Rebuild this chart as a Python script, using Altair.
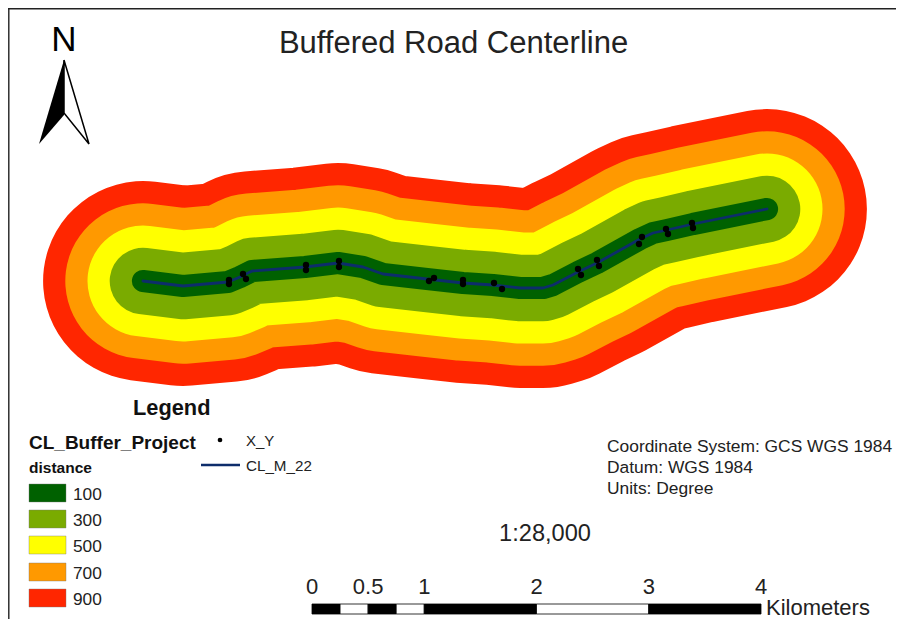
import altair as alt
import pandas as pd

# Road centreline (map units = reference pixels)
line_x = [143, 183, 228, 240, 252, 305, 338, 363, 383, 427, 463, 493, 520, 543, 553, 578, 597, 640, 653, 667, 693, 767]
line_y = [281, 286, 282, 277, 271, 267, 263, 267, 274, 279, 283, 285, 288, 288, 285, 272, 263, 239, 233, 230, 224, 209]

# X_Y survey points
pt_x = [229, 229, 243, 246, 306, 306, 339, 339, 429, 434, 463, 463, 494, 502, 578, 581, 597, 599, 642, 639, 666, 668, 692, 693]
pt_y = [280, 284, 274, 279, 265, 270, 261, 267, 281, 278, 280, 284, 283, 289, 269, 275, 260, 266, 237, 244, 229, 234, 223, 228]

distances = [100, 300, 500, 700, 900]
colors = ["#006100", "#7aab00", "#ffff00", "#ff9900", "#ff2600"]
legend_y = [484, 510, 536, 563, 589]

scale_km = [0, 0.25, 0.5, 0.75, 1, 2, 3, 4]
scale_tick_labels = ["0", "0.5", "1", "2", "3", "4"]
scale_tick_km = [0, 0.5, 1, 2, 3, 4]

X = alt.Scale(domain=[8, 896], nice=False, zero=False)
Y = alt.Scale(domain=[619, 8], nice=False, zero=False)
PX_PER_UNIT = 0.111
KM = 112.25
KM0 = 312


def xe(f="x"):
    return alt.X(f"{f}:Q", scale=X, axis=None)


def ye(f="y"):
    return alt.Y(f"{f}:Q", scale=Y, axis=None)


def label(x, y, text, size, weight="normal", align="left", color="#111111"):
    return alt.Chart(pd.DataFrame({"x": [x], "y": [y], "t": [text]})).mark_text(
        font="Liberation Sans", fontSize=size, fontWeight=weight, align=align,
        baseline="middle", color=color
    ).encode(x=xe(), y=ye(), text="t:N")


line_df = pd.DataFrame({"x": line_x, "y": line_y, "o": range(len(line_x))})
layers = []

# buffers, widest first
for d, c in sorted(zip(distances, colors), reverse=True):
    layers.append(
        alt.Chart(line_df).mark_line(
            color=c, strokeWidth=2 * d * PX_PER_UNIT, strokeCap="round", strokeJoin="round"
        ).encode(x=xe(), y=ye(), order="o:Q")
    )

layers.append(
    alt.Chart(line_df).mark_line(color="#0d2d6b", strokeWidth=2.8, strokeCap="round", strokeJoin="round")
    .encode(x=xe(), y=ye(), order="o:Q")
)
layers.append(
    alt.Chart(pd.DataFrame({"x": pt_x, "y": pt_y})).mark_point(
        filled=True, color="#000000", size=40, opacity=1
    ).encode(x=xe(), y=ye())
)

# frame: left and top edges only
layers.append(
    alt.Chart(pd.DataFrame({"x": [8.8, 8.8], "y": [8, 619]})).mark_line(color="#222222", strokeWidth=1.4)
    .encode(x=xe(), y=ye())
)
layers.append(
    alt.Chart(pd.DataFrame({"x": [8, 896], "y": [8.8, 8.8]})).mark_line(color="#222222", strokeWidth=1.4)
    .encode(x=xe(), y=ye())
)

# north arrow
layers.append(
    alt.Chart(pd.DataFrame({"x": [39, 64], "y": [144, 60], "y2": [144, 115]})).mark_area(color="#000000")
    .encode(x=xe(), y=ye(), y2="y2:Q")
)
layers.append(
    alt.Chart(pd.DataFrame({"x": [64, 89, 64, 64], "y": [60, 144, 113, 60], "o": [0, 1, 2, 3]}))
    .mark_line(color="#000000", strokeWidth=1.5, strokeJoin="miter")
    .encode(x=xe(), y=ye(), order="o:Q")
)
layers.append(label(64, 40, "N", 35, align="center", color="#000000"))

# titles and notes
layers.append(label(453.5, 44, "Buffered Road Centerline", 31, align="center", color="#222222"))
layers.append(label(133, 408, "Legend", 21.8, "bold", color="#111111"))
layers.append(label(29, 443, "CL_Buffer_Project", 19, "bold"))
layers.append(label(29, 468, "distance", 15.5, "bold"))

# legend swatches
for d, c, ly in zip(distances, colors, legend_y):
    layers.append(
        alt.Chart(pd.DataFrame({"x": [29], "x2": [66], "y": [ly], "y2": [ly + 18]})).mark_rect(
            color=c, stroke="#777777", strokeWidth=0.4
        ).encode(x=xe(), x2="x2:Q", y=ye(), y2="y2:Q")
    )
    layers.append(label(73, ly + 10.5, str(d), 17.3, color="#222222"))

# X_Y / CL_M_22 legend
layers.append(
    alt.Chart(pd.DataFrame({"x": [220], "y": [440]})).mark_point(filled=True, color="#000000", size=22, opacity=1)
    .encode(x=xe(), y=ye())
)
layers.append(
    alt.Chart(pd.DataFrame({"x": [201, 240], "y": [465, 465]})).mark_line(color="#0d2d6b", strokeWidth=2.4)
    .encode(x=xe(), y=ye())
)
layers.append(label(246, 441, "X_Y", 15, color="#222222"))
layers.append(label(246, 466, "CL_M_22", 15.2, color="#222222"))

# coordinate notes
layers.append(label(607, 447, "Coordinate System: GCS WGS 1984", 17.4, color="#222222"))
layers.append(label(607, 468, "Datum: WGS 1984", 17.4, color="#222222"))
layers.append(label(607, 489, "Units: Degree", 17.4, color="#222222"))
layers.append(label(545, 534, "1:28,000", 23.6, align="center", color="#222222"))

# scale bar
for i in range(len(scale_km) - 1):
    fill = "#000000" if i % 2 == 0 else "#ffffff"
    layers.append(
        alt.Chart(pd.DataFrame({
            "x": [KM0 + scale_km[i] * KM], "x2": [KM0 + scale_km[i + 1] * KM], "y": [604], "y2": [614]
        })).mark_rect(color=fill, stroke="#000000", strokeWidth=0.8)
        .encode(x=xe(), x2="x2:Q", y=ye(), y2="y2:Q")
    )
for km, t in zip(scale_tick_km, scale_tick_labels):
    layers.append(label(KM0 + km * KM, 587, t, 22, align="center", color="#222222"))
layers.append(label(766, 608, "Kilometers", 22, color="#222222"))

chart = alt.layer(*layers).properties(
    width=888, height=611, padding=0, background="white",
    autosize=alt.AutoSizeParams(type="none")
).configure_view(stroke=None)

chart.save("out.html", embed_options={"renderer": "svg", "actions": False})
